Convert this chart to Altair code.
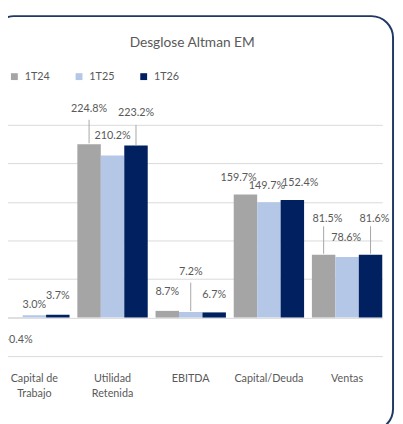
import altair as alt
import pandas as pd

# ---- data ----
categories = ["Capital de Trabajo", "Utilidad Retenida", "EBITDA", "Capital/Deuda", "Ventas"]
series = ["1T24", "1T25", "1T26"]
v_1t24 = [-0.4, 224.8, 8.7, 159.7, 81.5]
v_1t25 = [3.0, 210.2, 7.2, 149.7, 78.6]
v_1t26 = [3.7, 223.2, 6.7, 152.4, 81.6]
colors = ["#A5A5A5", "#B4C7E7", "#002060"]
title_text = "Desglose Altman EM"
grid_values = [-50, 0, 50, 100, 150, 200, 250]

# ---- layout tweaks (pixel nudges of data labels, leader lines) ----
label_dx = [[8, 0, 0], [0, 0, 0], [0, 0, 0], [-7, -2, 8], [4, -1, 4]]
label_dy = [[23, -10, -19], [-36, -20, -33], [-19, -41, -18], [-17, -16, -17], [-36, -19, -36]]
leaders = {(1, 0): (1, 25), (1, 2): (0, 21), (2, 1): (1, 30), (4, 0): (1, 29), (4, 2): (1, 29)}

W, H = 385, 236
YMIN, YMAX = -50, 250
k = H / (YMAX - YMIN)

vals = [v_1t24, v_1t25, v_1t26]
rows = []
for i, c in enumerate(categories):
    for j, s in enumerate(series):
        v = vals[j][i]
        ld = leaders.get((i, j))
        rows.append(dict(
            cat=c, ser=s, value=v,
            lbl=f"{v:.1f}%",
            ldx=label_dx[i][j],
            ly=v - label_dy[i][j] / k,
            lead=ld is not None,
            y1=v + (ld[0] / k if ld else 0),
            y2=v + (ld[1] / k if ld else 0),
        ))
df = pd.DataFrame(rows)

FONT = "Lato"
GRAY = "#595959"

x = alt.X("cat:N", sort=categories,
          scale=alt.Scale(range=[-9, 382], paddingInner=0.1, paddingOuter=0),
          axis=alt.Axis(title=None, domain=False, ticks=False, labelAngle=0,
                        labelPadding=17, labelFontSize=11, labelColor=GRAY, labelFont=FONT,
                        labelLineHeight=15,
                        labelExpr="lastindexof(datum.label,' ')>0 ? [substring(datum.label,0,lastindexof(datum.label,' ')), substring(datum.label,lastindexof(datum.label,' ')+1)] : datum.label"))
xo = alt.XOffset("ser:N", sort=series, scale=alt.Scale(domain=series, paddingInner=0))
yscale = alt.Scale(domain=[YMIN, YMAX], nice=False)
yaxis = alt.Axis(title=None, labels=False, ticks=False, domain=False, values=grid_values,
                 gridColor="#D9D9D9", gridWidth=1)

base = alt.Chart(df)

bars = base.mark_bar().encode(
    x=x, xOffset=xo,
    y=alt.Y("value:Q", scale=yscale, axis=yaxis),
    color=alt.Color("ser:N", sort=series,
                    scale=alt.Scale(domain=series, range=colors),
                    legend=alt.Legend(title=None, orient="none", legendX=1, legendY=-55,
                                      direction="horizontal", symbolType="square",
                                      symbolSize=49, labelFontSize=11, labelColor=GRAY,
                                      labelFont=FONT, labelOffset=5, columnPadding=24,
                                      padding=0, symbolStrokeWidth=0)),
)

leader_lines = base.transform_filter(alt.datum.lead).mark_rule(
    color="#A6A6A6", strokeWidth=1).encode(
    x=x, xOffset=xo, y=alt.Y("y1:Q", scale=yscale, axis=yaxis), y2="y2:Q")

label_layers = []
for d in sorted(set(v for r in label_dx for v in r)):
    label_layers.append(
        base.transform_filter(alt.datum.ldx == d).mark_text(
            dx=d, fontSize=11, color=GRAY, font=FONT, baseline="middle").encode(
            x=x, xOffset=xo, y=alt.Y("ly:Q", scale=yscale, axis=yaxis), text="lbl:N")
    )

frame = alt.Chart(pd.DataFrame({"a": [0]})).mark_rect(
    filled=False, stroke="#1F3864", strokeWidth=2, cornerRadius=22).encode(
    x=alt.value(-16), x2=alt.value(393), y=alt.value(-111), y2=alt.value(312))

title = alt.Chart(pd.DataFrame({"t": [title_text]})).mark_text(
    fontSize=14, color=GRAY, font=FONT).encode(
    text="t:N", x=alt.value(188), y=alt.value(-83))

chart = alt.layer(frame, bars, leader_lines, *label_layers, title).properties(
    width=W, height=H,
    autosize=alt.AutoSizeParams(type="none"),
    padding={"left": 0, "top": 115, "right": 10, "bottom": 65},
).configure_view(stroke=None)

chart.save("out.html", embed_options={"renderer": "svg", "actions": False})
